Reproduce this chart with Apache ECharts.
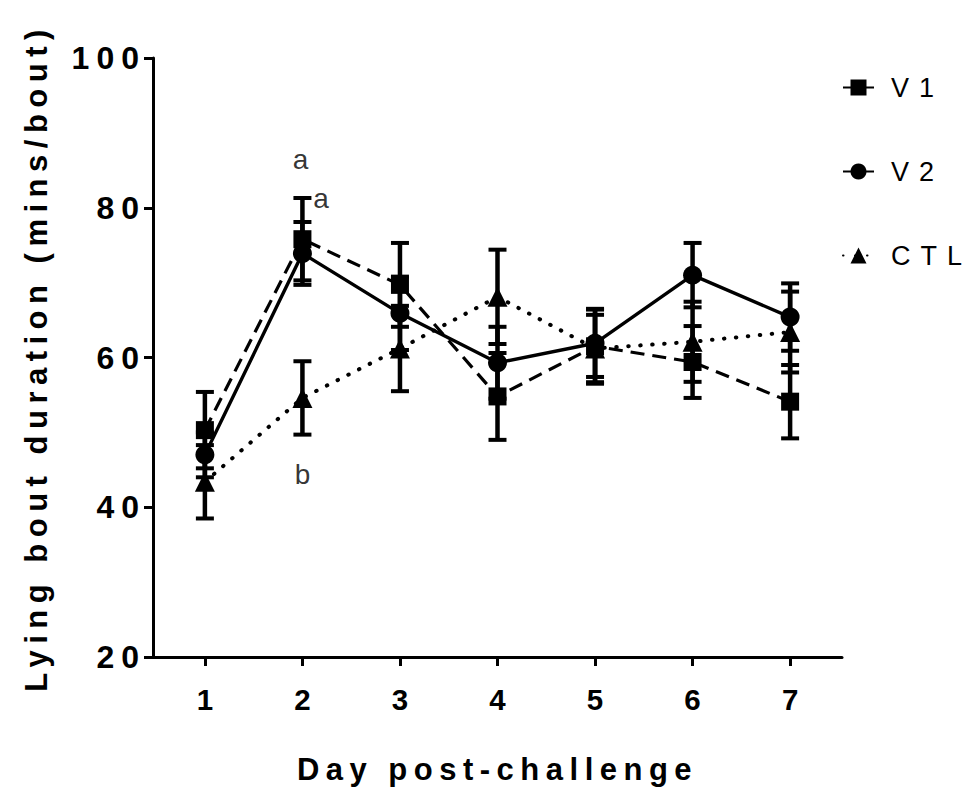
<!DOCTYPE html>
<html>
<head>
<meta charset="utf-8">
<script src="https://cdn.jsdelivr.net/npm/echarts@6/dist/echarts.min.js"></script>
<style>
  html, body { margin: 0; padding: 0; background: #fff; }
  #chart { width: 973px; height: 792px; }
  /* wide tracking, GraphPad style: y tick labels, axis titles, legend */
  #chart text[style*="32px"] { letter-spacing: 7px; }
  #chart text[style*="31px"] { letter-spacing: 6.5px; }
  #chart text[style*="27px"] { letter-spacing: 10px; }
</style>
</head>
<body>
<div id="chart"></div>
<script>
// Days after challenge
const days = [1, 2, 3, 4, 5, 6, 7];

// Mean lying bout duration (mins/bout) and SEM per group
const v1Mean  = [50.3, 75.8, 69.7, 54.8, 61.5, 59.4, 54.1];
const v1Sem   = [5.1, 5.5, 5.6, 5.8, 5.0, 4.8, 4.9];
const v2Mean  = [47.0, 73.9, 65.9, 59.3, 61.9, 71.0, 65.4];
const v2Sem   = [3.0, 4.2, 4.9, 4.8, 4.5, 4.3, 4.5];
const ctlMean = [43.4, 54.6, 61.2, 68.1, 61.2, 62.1, 63.4];
const ctlSem  = [4.9, 4.9, 5.7, 6.3, 4.5, 5.35, 5.4];

// Y axis ticks
const yTicks = [20, 40, 60, 80, 100];

// Significance letters: [day, value, letter]
const sigLetters = [
  [1.98, 86.4, 'a'],
  [2.19, 81.3, 'a'],
  [2.00, 44.4, 'b']
];

const chart = echarts.init(document.getElementById('chart'), null, { renderer: 'svg' });

function pairs(mean) { return days.map((d, i) => [d, mean[i]]); }
function triples(mean, sem) { return days.map((d, i) => [d, mean[i], sem[i]]); }

// Vertical error bar with end caps, placed through the axes
function errorBar(params, api) {
  const x = api.value(0), m = api.value(1), e = api.value(2);
  const top = api.coord([x, m + e]);
  const bot = api.coord([x, m - e]);
  const hw = 9;
  const st = { stroke: '#000', lineWidth: 4 };
  return {
    type: 'group',
    children: [
      { type: 'line', shape: { x1: top[0], y1: top[1], x2: bot[0], y2: bot[1] }, style: { stroke: '#000', lineWidth: 4.5 } },
      { type: 'line', shape: { x1: top[0] - hw, y1: top[1], x2: top[0] + hw, y2: top[1] }, style: st },
      { type: 'line', shape: { x1: bot[0] - hw, y1: bot[1], x2: bot[0] + hw, y2: bot[1] }, style: st }
    ]
  };
}

function errSeries(name, mean, sem) {
  return {
    name: name,
    type: 'custom',
    renderItem: errorBar,
    data: triples(mean, sem),
    encode: { x: 0, y: 1 },
    silent: true,
    z: 2
  };
}

function lineSeries(name, mean, symbol, size, lineType, width, cap) {
  return {
    name: name,
    type: 'line',
    data: pairs(mean),
    symbol: symbol,
    symbolSize: size,
    showSymbol: true,
    itemStyle: { color: '#000', borderWidth: 0 },
    lineStyle: { color: '#000', width: width, type: lineType, cap: cap || 'butt' },
    emphasis: { disabled: true },
    silent: true,
    z: 3
  };
}

const option = {
  backgroundColor: '#fff',
  animation: false,
  textStyle: { fontFamily: 'Arial, "Liberation Sans", sans-serif', color: '#000' },
  grid: { left: 153, right: 131, top: 58, bottom: 135, containLabel: false },
  legend: {
    data: ['V1', 'V2', 'CTL'],
    orient: 'vertical',
    left: 842,
    top: 74,
    padding: 0,
    itemGap: 57,
    itemWidth: 31,
    itemHeight: 20,
    textStyle: { fontSize: 27, color: '#000', fontFamily: 'Arial, "Liberation Sans", sans-serif', padding: [0, 0, 0, 12] },
    selectedMode: false
  },
  xAxis: {
    type: 'value',
    min: 0.468,
    max: 7.532,
    name: 'Day post-challenge',
    nameLocation: 'middle',
    nameGap: 97,
    nameTextStyle: { fontSize: 31, fontWeight: 'bold', color: '#000' },
    axisLine: { show: true, onZero: false, lineStyle: { color: '#000', width: 3 } },
    axisTick: { show: true, inside: false, length: 9, customValues: days, lineStyle: { color: '#000', width: 3 } },
    axisLabel: { show: true, customValues: days, margin: 27, fontSize: 29.5, fontWeight: 'bold', color: '#000' },
    splitLine: { show: false }
  },
  yAxis: {
    type: 'value',
    min: 20,
    max: 100,
    interval: 20,
    name: 'Lying bout duration (mins/bout)',
    nameLocation: 'middle',
    nameGap: 101,
    nameTextStyle: { fontSize: 31, fontWeight: 'bold', color: '#000' },
    axisLine: { show: true, lineStyle: { color: '#000', width: 3 } },
    axisTick: { show: true, inside: false, length: 9, customValues: yTicks, lineStyle: { color: '#000', width: 3 } },
    axisLabel: { show: true, customValues: yTicks, margin: 7, fontSize: 32, fontWeight: 'bold', color: '#000' },
    splitLine: { show: false }
  },
  series: [
    errSeries('V1 SEM', v1Mean, v1Sem),
    errSeries('V2 SEM', v2Mean, v2Sem),
    errSeries('CTL SEM', ctlMean, ctlSem),
    lineSeries('V1', v1Mean, 'rect', 18, [14, 8], 3.2),
    lineSeries('V2', v2Mean, 'circle', 19, 'solid', 3.4),
    lineSeries('CTL', ctlMean, 'triangle', 20, [0.5, 11.5], 4, 'round'),
    {
      name: 'letters',
      type: 'scatter',
      data: sigLetters,
      symbolSize: 0,
      silent: true,
      z: 4,
      label: {
        show: true,
        position: 'inside',
        formatter: p => p.value[2],
        fontSize: 28,
        color: '#000',
        fontFamily: 'Arial, "Liberation Sans", sans-serif'
      }
    }
  ]
};

chart.setOption(option);
</script>
</body>
</html>
